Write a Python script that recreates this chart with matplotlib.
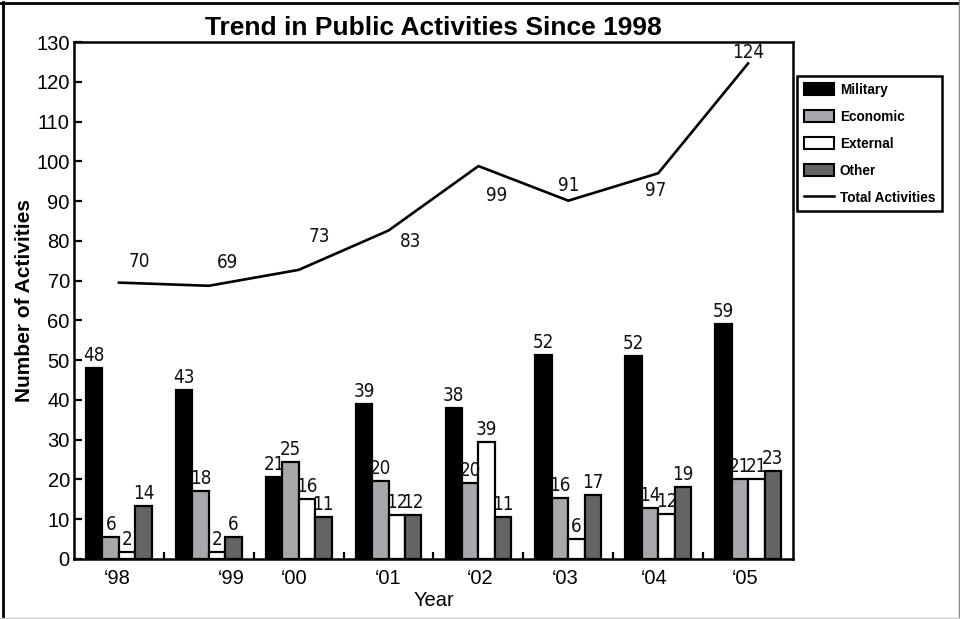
import matplotlib
matplotlib.use("Agg")
import matplotlib.pyplot as plt
from matplotlib import font_manager as fm
from matplotlib.patches import Patch
from matplotlib.lines import Line2D
import matplotlib.transforms as mtransforms
import numpy as np

# ---------------- data ----------------
years = ["\u201898", "\u201899", "\u201800", "\u201801", "\u201802", "\u201803", "\u201804", "\u201805"]
series_names = ["Military", "Economic", "External", "Other"]

military = [48.0, 42.4, 20.6, 38.9, 38.0, 51.4, 51.1, 59.2]
economic = [5.6, 17.2, 24.5, 19.5, 19.1, 15.4, 12.9, 20.0]
external = [1.8, 1.8, 15.1, 11.1, 29.4, 5.0, 11.3, 20.2]
other = [13.4, 5.6, 10.5, 11.1, 10.5, 16.0, 18.0, 22.2]

military_lbl = [48, 43, 21, 39, 38, 52, 52, 59]
economic_lbl = [6, 18, 25, 20, 20, 16, 14, 21]
external_lbl = [2, 2, 16, 12, 39, 6, 12, 21]
other_lbl = [14, 6, 11, 12, 11, 17, 19, 23]

total = [69.5, 68.7, 72.7, 82.6, 98.8, 90.1, 97.0, 124.6]
total_lbl = [70, 69, 73, 83, 99, 91, 97, 124]

# ---------------- styling ----------------
colors = ["#000000", "#a7a8ab", "#ffffff", "#636466"]
total_lbl_offsets = [(20, 21), (19, 23), (21, 33), (22, -11), (18, -29), (0, 15), (-2, -17), (0, 11)]
xtick_shift_px = [-2, 22, -5, 0, 2, -3, -4, -3]

names = {f.name for f in fm.fontManager.ttflist}
if "Liberation Sans Narrow" in names:
    num_font = dict(family="Liberation Sans Narrow")
else:
    num_font = dict(family="DejaVu Sans", stretch="condensed")
main_font = "Liberation Sans"

fig = plt.figure(figsize=(9.6, 6.19), dpi=100)
W, H = 960, 619
ax = fig.add_axes([74 / W, 1 - 559 / H, (793 - 74) / W, (559 - 42) / H])

x = np.arange(len(years))
bw = 0.183
all_vals = [military, economic, external, other]
all_lbls = [military_lbl, economic_lbl, external_lbl, other_lbl]
for k, (vals, lbls) in enumerate(zip(all_vals, all_lbls)):
    xs = x + (k - 1.5) * bw
    ax.bar(xs, vals, width=bw, color=colors[k], edgecolor="black", linewidth=1.6, zorder=2)
    for xi, v, l in zip(xs, vals, lbls):
        ax.annotate(str(l), (xi, v), xytext=(0, 3), textcoords="offset pixels",
                    ha="center", va="bottom", fontsize=13.5, color="#111111", **num_font)

ax.plot(x, total, color="black", linewidth=1.9, zorder=3)
for xi, v, l, (dx, dy) in zip(x, total, total_lbl, total_lbl_offsets):
    ax.annotate(str(l), (xi, v), xytext=(dx, dy), textcoords="offset pixels",
                ha="center", va="center", fontsize=13.5, color="#111111", **num_font)

ax.set_xlim(-0.5, len(years) - 0.5)
ax.set_ylim(0, 130)
ax.set_yticks(np.arange(0, 131, 10))
ax.tick_params(axis="y", direction="in", length=6, width=1.6, labelsize=14.5, pad=3)
ax.set_xticks(x)
ax.set_xticklabels(years)
ax.set_xticks(np.arange(0.5, len(years) - 0.5, 1), minor=True)
ax.tick_params(axis="x", which="major", length=0, labelsize=14.5, pad=7)
ax.tick_params(axis="x", which="minor", direction="in", length=5, width=1.6)
for lab in ax.get_yticklabels() + ax.get_xticklabels():
    lab.set_family(main_font)
for lab, s in zip(ax.get_xticklabels(), xtick_shift_px):
    lab.set_transform(lab.get_transform() + mtransforms.Affine2D().translate(s, 0))

for sp in ax.spines.values():
    sp.set_linewidth(1.8)

ax.set_ylabel("Number of Activities", fontsize=15, fontweight="bold", family=main_font, labelpad=2)
ax.set_xlabel("Year", fontsize=14.5, family=main_font, labelpad=2)
ax.set_title("Trend in Public Activities Since 1998", fontsize=19, fontweight="bold",
             family=main_font, pad=5)

handles = [Patch(facecolor=c, edgecolor="black", linewidth=1.5, label=n)
           for c, n in zip(colors, series_names)]
handles.append(Line2D([], [], color="black", linewidth=1.8, label="Total Activities"))
leg = fig.legend(handles=handles, loc="upper left", bbox_to_anchor=(797 / W, 1 - 76 / H),
                 bbox_transform=fig.transFigure, frameon=True, fancybox=False,
                 edgecolor="black", framealpha=1, borderaxespad=0, borderpad=0.5,
                 prop=dict(family=main_font, weight="bold", size=9.8),
                 handlelength=2.2, handleheight=1.05, labelspacing=0.95, handletextpad=0.45)
leg.get_frame().set_linewidth(1.8)

# outer frame
fig.add_artist(Line2D([2.5 / W, 2.5 / W], [0, 1 - 2 / H], transform=fig.transFigure, color="black", lw=2))
fig.add_artist(Line2D([0, 959 / W], [1 - 2.5 / H, 1 - 2.5 / H], transform=fig.transFigure, color="black", lw=2))
fig.add_artist(Line2D([958.5 / W, 958.5 / W], [1 / H, 1], transform=fig.transFigure, color="#888888", lw=1))
fig.add_artist(Line2D([0, 1], [1.5 / H, 1.5 / H], transform=fig.transFigure, color="#cccccc", lw=1))

fig.savefig("out.png", dpi=100)
